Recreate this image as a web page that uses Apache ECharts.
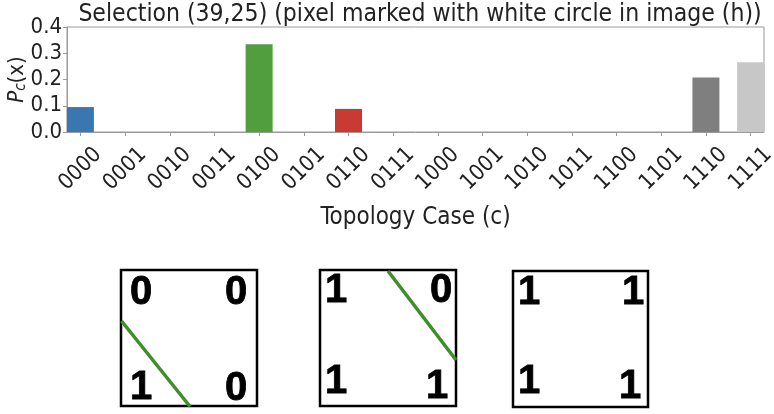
<!DOCTYPE html>
<html>
<head>
<meta charset="utf-8">
<script src="https://cdn.jsdelivr.net/npm/echarts@6/dist/echarts.min.js"></script>
<style>
html,body{margin:0;padding:0;background:#fff;}
#c{width:774px;height:414px;}
</style>
</head>
<body>
<div id="c"></div>
<script>
var categories = ['0000','0001','0010','0011','0100','0101','0110','0111','1000','1001','1010','1011','1100','1101','1110','1111'];
var values = [0.095, 0, 0, 0, 0.334, 0, 0.088, 0, 0, 0, 0, 0, 0, 0, 0.208, 0.266];
var barColors = ['#3a76b0','#3a76b0','#3a76b0','#3a76b0','#509e3e','#509e3e','#c83a32','#c83a32','#c83a32','#c83a32','#c83a32','#c83a32','#c83a32','#c83a32','#7f7f7f','#c7c7c7'];
var yTicks = [0, 0.1, 0.2, 0.3, 0.4];
var titleText = 'Selection (39,25) (pixel marked with white circle in image (h))';
var xName = 'Topology Case (c)';
// corner digits for the three topology boxes: [top-left, top-right, bottom-left, bottom-right]
var boxDigits = [['0','0','1','0'], ['1','0','1','1'], ['1','1','1','1']];

var FONT = '"DejaVu Sans Condensed", "DejaVu Sans", sans-serif';
var chart = echarts.init(document.getElementById('c'), null, {renderer:'canvas'});

var tickIdx = categories.map(function(c, i){ return i; });

var boxes = [
  {x:121, y:270, w:136, h:136, line:[121.5,321,190,406.5],
   pos:[[141,292.5],[236,292.5],[141,387.5],[236,389]]},
  {x:320, y:270, w:136, h:136, line:[388,271,456,360],
   pos:[[336,291],[441,291],[336,382],[437,387]]},
  {x:513, y:271, w:135, h:136, line:null,
   pos:[[529,292.5],[633,292.5],[529,382],[630,387]]}
];

var graphics = [];
boxes.forEach(function(b, bi){
  graphics.push({type:'rect', shape:{x:b.x, y:b.y, width:b.w, height:b.h},
    style:{fill:'none', stroke:'#000', lineWidth:2.5}});
  boxDigits[bi].forEach(function(d, di){
    graphics.push({type:'text', x:b.pos[di][0], y:b.pos[di][1],
      style:{text:d, fill:'#000', font:'bold 40px "Liberation Sans", Arial, sans-serif',
        textAlign:'center', textVerticalAlign:'middle', stroke:'#000', lineWidth:0.8}});
  });
  if (b.line) {
    graphics.push({type:'line', shape:{x1:b.line[0], y1:b.line[1], x2:b.line[2], y2:b.line[3]},
      style:{stroke:'#3e8e2a', lineWidth:3.5}});
  }
});

chart.setOption({
  animation:false,
  backgroundColor:'#fff',
  title:{
    text:titleText, left:415, top:-3, textAlign:'center',
    textStyle:{fontFamily:FONT, fontSize:24.5, fontWeight:'normal', color:'#222'}
  },
  grid:{left:67, right:10, top:27, bottom:282, show:true, borderColor:'#9a9a9a', borderWidth:1,
    containLabel:false, outerBoundsMode:'none'},
  xAxis:{
    type:'value', min:-0.3, max:15.3,
    name:xName, nameLocation:'middle', nameGap:74, nameMoveOverlap:false,
    nameTextStyle:{fontFamily:FONT, fontSize:24, color:'#222'},
    splitLine:{show:false},
    axisLine:{show:true, onZero:false, lineStyle:{color:'#9a9a9a'}},
    axisTick:{show:true, customValues:tickIdx, length:4, lineStyle:{color:'#9a9a9a'}},
    axisLabel:{
      customValues:tickIdx, rotate:45, align:'center', verticalAlign:'middle', margin:37,
      fontFamily:FONT, fontSize:22, color:'#222',
      formatter:function(v){ return categories[Math.round(v)]; }
    }
  },
  yAxis:{
    type:'value', min:0, max:0.4, interval:0.1,
    name:'{p|P}{s|c}{n|(x)}', nameLocation:'middle', nameGap:38, nameRotate:90, nameMoveOverlap:false,
    nameTextStyle:{fontFamily:FONT, fontSize:22, color:'#222',
      rich:{
        p:{fontFamily:FONT, fontSize:22, fontStyle:'italic', color:'#222'},
        s:{fontFamily:FONT, fontSize:15, fontStyle:'italic', color:'#222', padding:[8,0,0,0]},
        n:{fontFamily:FONT, fontSize:22, color:'#222'}
      }},
    splitLine:{show:false},
    axisLine:{show:true, onZero:false, lineStyle:{color:'#9a9a9a'}},
    axisTick:{show:true, length:4, lineStyle:{color:'#9a9a9a'}},
    axisLabel:{fontFamily:FONT, fontSize:22, color:'#222', margin:5,
      customValues:yTicks,
      formatter:function(v){ return v.toFixed(1); }}
  },
  series:[{
    type:'bar', barWidth:27,
    data:values.map(function(v, i){ return {value:[i, v], itemStyle:{color:barColors[i]}}; })
  }],
  graphic:graphics
});
</script>
</body>
</html>
